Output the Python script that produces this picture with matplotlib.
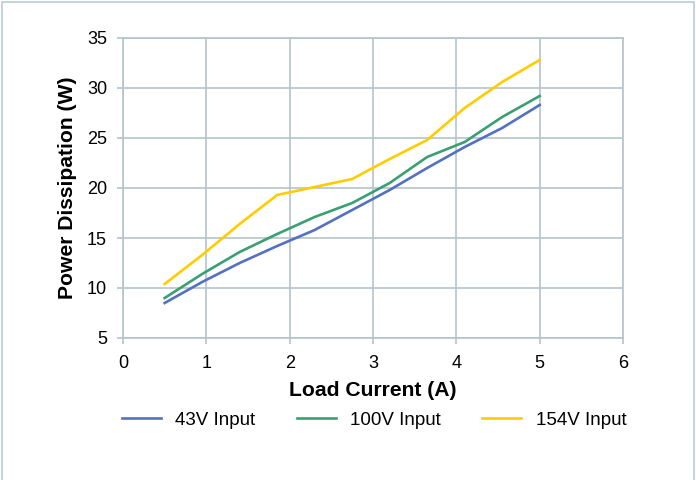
import matplotlib.pyplot as plt
from matplotlib.patches import Rectangle

plt.rcParams['font.family'] = ['Liberation Sans', 'DejaVu Sans']

# Load current (A)
current = [0.5, 0.95, 1.4, 1.85, 2.3, 2.75, 3.2, 3.65, 4.1, 4.55, 5.0]

# Power dissipation (W) for each input voltage
p_43v = [8.5, 10.6, 12.5, 14.2, 15.8, 17.8, 19.8, 22.0, 24.1, 26.0, 28.3]
p_100v = [9.0, 11.4, 13.6, 15.4, 17.1, 18.5, 20.5, 23.1, 24.6, 27.1, 29.2]
p_154v = [10.4, 13.3, 16.4, 19.3, 20.1, 20.9, 22.9, 24.8, 28.0, 30.6, 32.8]

grid_color = '#b4c4cb'

fig = plt.figure(figsize=(6.96, 4.8), dpi=100)
ax = fig.add_axes([123 / 696, 1 - 338 / 480, 500 / 696, 300 / 480])

ax.plot(current, p_43v, color='#5470c0', lw=1.9, label='43V Input')
ax.plot(current, p_100v, color='#3a9f72', lw=1.9, label='100V Input')
ax.plot(current, p_154v, color='#ffcc00', lw=1.9, label='154V Input')

ax.set_xlim(0, 6)
ax.set_ylim(5, 35)
ax.set_xticks(range(0, 7))
ax.set_yticks(range(5, 36, 5))
ax.grid(True, color=grid_color, lw=1.2)
ax.set_axisbelow(True)
for s in ax.spines.values():
    s.set_color(grid_color)
    s.set_linewidth(1.2)
ax.tick_params(colors=grid_color, labelcolor='black', labelsize=13, length=4.5, width=1.2)
ax.tick_params(axis='x', pad=8)
ax.tick_params(axis='y', pad=7)

ax.set_xlabel('Load Current (A)', fontsize=15.2, fontweight='bold', labelpad=6)
ax.set_ylabel('Power Dissipation (W)', fontsize=15.2, fontweight='bold', labelpad=7)

fig.legend(loc='center', bbox_to_anchor=(374 / 696, 1 - 420 / 480), ncol=3, frameon=False,
           fontsize=13.5, handlelength=2.1, columnspacing=2.2, handletextpad=0.75)

# light border around the figure
fig.patches.append(Rectangle((2 / 696, -0.05), 692 / 696, 1.05 - 1.5 / 480,
                             transform=fig.transFigure, fill=False,
                             edgecolor='#b8ccd4', lw=1.2))

fig.savefig('out.png', dpi=100)
